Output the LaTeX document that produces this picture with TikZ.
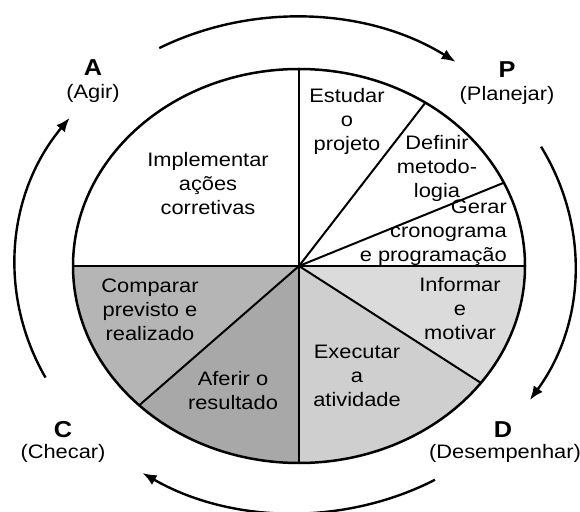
\documentclass[tikz,border=0pt]{standalone}
\usepackage{fontspec}
\setmainfont{Liberation Sans}
\usetikzlibrary{arrows.meta,calc}
\definecolor{cmpgray}{gray}{0.71}
\definecolor{afrgray}{gray}{0.66}
\definecolor{exegray}{gray}{0.81}
\definecolor{infgray}{gray}{0.86}
\begin{document}
\begin{tikzpicture}[x=1pt,y=1pt,
  lbl/.style={font=\fontsize{19.5}{24}\selectfont, align=center, inner sep=0pt, xscale=1.12},
  phase/.style={font=\fontsize{23}{24}\selectfont\bfseries, inner sep=0pt, xscale=1.1},
  cyc/.style={line width=2.4pt, -{Latex[length=14pt,width=11pt]}},
  spoke/.style={line width=2pt}]
\useasboundingbox (0,0) rectangle (580,511);
\coordinate (O) at (299,245);
\coordinate (Q) at (295,246);
\foreach \a/\n in {0/e,25/g,56/d,90/n,180/w,225/c,270/s,323.6/i}
  \coordinate (s\n) at ($(O)+(\a:226 and 197)$);
% fills
\fill[cmpgray] (O) -- (sw) arc[start angle=180,end angle=225,x radius=226,y radius=197] -- cycle;
\fill[afrgray] (O) -- (sc) arc[start angle=225,end angle=270,x radius=226,y radius=197] -- cycle;
\fill[exegray] (O) -- (ss) arc[start angle=270,end angle=323.6,x radius=226,y radius=197] -- cycle;
\fill[infgray] (O) -- (si) arc[start angle=323.6,end angle=360,x radius=226,y radius=197] -- cycle;
% outline and spokes
\draw[line width=2.5pt] (O) ellipse[x radius=226,y radius=197];
\draw[spoke] (sw) -- (se);
\draw[spoke] (sn) -- (ss);
\draw[spoke] (O) -- (sd);
\draw[spoke] (O) -- (sg);
\draw[spoke] (O) -- (si);
\draw[spoke] (O) -- (sc);
% cycle arrows
\foreach \a/\n in {119/top,28.5/right,-60/bottom,207/left}
  \coordinate (a\n) at ($(Q)+(\a:280 and 248)$);
\draw[cyc] (atop) arc[start angle=119,end angle=55,x radius=280,y radius=248];
\draw[cyc] (aright) arc[start angle=28.5,end angle=-33,x radius=280,y radius=248];
\draw[cyc] (abottom) arc[start angle=-60,end angle=-123,x radius=280,y radius=248];
\draw[cyc] (aleft) arc[start angle=207,end angle=143.6,x radius=280,y radius=248];
% sector texts
\node[lbl] (impl) at (208,327) {Implementar\\ações\\corretivas};
\node[lbl] (estu) at (347,390) {Estudar\\o\\projeto};
\node[lbl] (defi) at (437,343) {Definir\\metodo-\\logia};
\node[lbl, align=right, anchor=east] (gera) at (507,278) {Gerar\\cronograma\\e programação};
\node[lbl] (info) at (460,202) {Informar\\e\\motivar};
\node[lbl] (exec) at (357,135) {Executar\\a\\atividade};
\node[lbl] (comp) at (150,201) {Comparar\\previsto e\\realizado};
\node[lbl] (afer) at (233,120) {Aferir o\\resultado};
% phase labels
\node[phase] (A) at (93,443) {A};
\node[lbl] (Agir) at (93,418) {(Agir)};
\node[phase] (P) at (507,441) {P};
\node[lbl] (Plan) at (507,416) {(Planejar)};
\node[phase] (C) at (63,81) {C};
\node[lbl] (Chec) at (63,58) {(Checar)};
\node[phase] (D) at (503,81) {D};
\node[lbl] (Dese) at (505,58) {(Desempenhar)};
\end{tikzpicture}
\end{document}
